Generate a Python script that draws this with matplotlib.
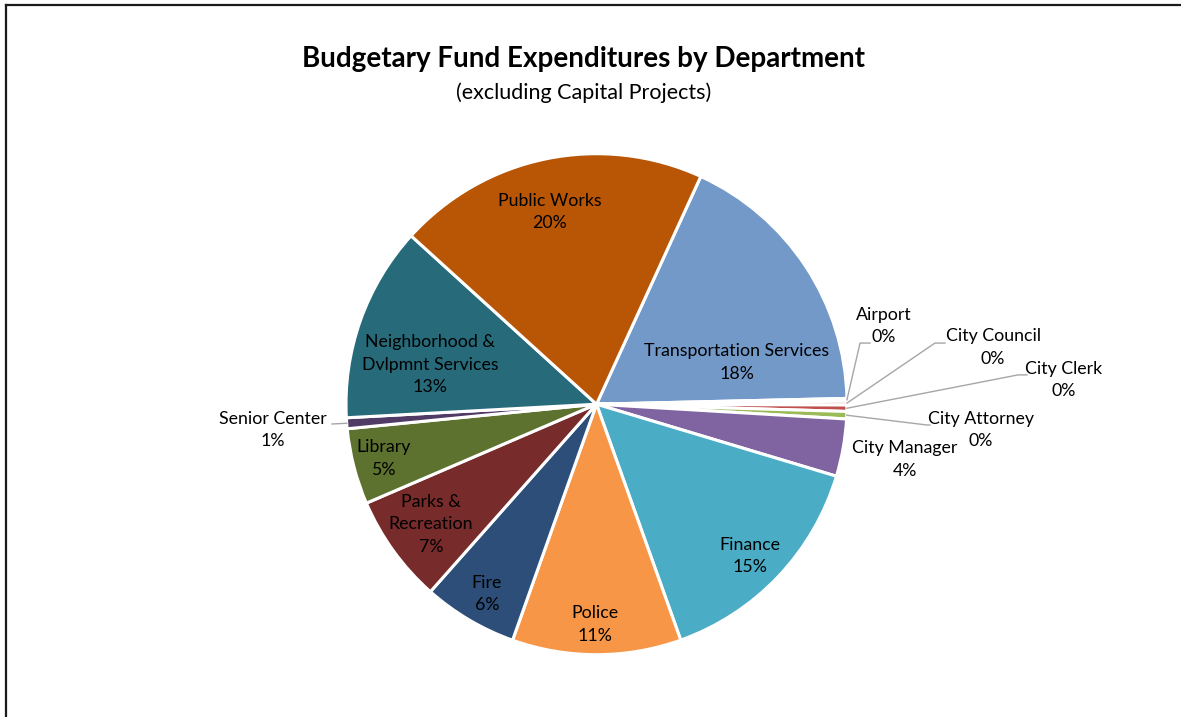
import matplotlib.pyplot as plt
import numpy as np
from matplotlib.lines import Line2D

# department expenditures, % of budgetary fund total (clockwise from Transportation)
departments = [
    "Transportation Services", "Airport", "City Council", "City Clerk",
    "City Attorney", "City Manager", "Finance", "Police", "Fire",
    "Parks &\nRecreation", "Library", "Senior Center",
    "Neighborhood &\nDvlpmnt Services", "Public Works",
]
shares = [17.8, 0.17, 0.25, 0.41, 0.48, 3.7, 14.9, 10.9, 6.1, 7.0, 4.9, 0.7, 12.6, 20.1]
colors = [
    "#7399C9", "#F2DCDB", "#E6B9B8", "#C0504D", "#9BBB59", "#8064A2",
    "#4BACC6", "#F79646", "#2C4E78", "#772B2A", "#5E722F", "#4F3B66",
    "#276B7B", "#B85606",
]

# label placement in pie-radius units; leader = (elbow, end) for outside labels
label_pos = {
    "Transportation Services": (0.560, 0.166),
    "Airport": (1.148, 0.312),
    "City Council": (1.583, 0.226),
    "City Clerk": (1.866, 0.097),
    "City Attorney": (1.535, -0.103),
    "City Manager": (1.231, -0.221),
    "Finance": (0.613, -0.607),
    "Police": (-0.006, -0.880),
    "Fire": (-0.437, -0.758),
    "Parks &\nRecreation": (-0.661, -0.480),
    "Library": (-0.850, -0.217),
    "Senior Center": (-1.291, -0.103),
    "Neighborhood &\nDvlpmnt Services": (-0.665, 0.158),
    "Public Works": (-0.186, 0.767),
}
leaders = {
    "Airport": [(1.052, 0.244), (1.092, 0.244)],
    "City Council": [(1.351, 0.244), (1.391, 0.244)],
    "City Clerk": [(1.683, 0.117), (1.718, 0.117)],
    "City Attorney": [(1.319, -0.083), (1.331, -0.083)],
    "Senior Center": [(-1.056, -0.079), (-1.056, -0.079)],
}

plt.rcParams['font.family'] = ['Lato', 'DejaVu Sans']

W, H = 1181, 717
fig = plt.figure(figsize=(W / 100, H / 100), dpi=100)
cx, cy, r = 596.5, 404.2, 250.5
ax = fig.add_axes([(cx - r) / W, (H - cy - r) / H, 2 * r / W, 2 * r / H])
ax.axis('off')

wedges, _ = ax.pie(shares, colors=colors, startangle=65.4, counterclock=False,
                   radius=1, wedgeprops=dict(edgecolor='white', linewidth=2.2))
ax.set_xlim(-1, 1)
ax.set_ylim(-1, 1)

total = sum(shares)
for w, name, val in zip(wedges, departments, shares):
    pct = f"{round(val / total * 100):.0f}%"
    x, y = label_pos[name]
    ax.text(x, y, f"{name}\n{pct}", ha='center', va='center', fontsize=12.8,
            color='black', linespacing=1.49, clip_on=False)
    if name in leaders:
        mid = np.deg2rad((w.theta1 + w.theta2) / 2)
        pts = [(np.cos(mid), np.sin(mid))] + leaders[name]
        xs, ys = zip(*pts)
        ax.add_line(Line2D(xs, ys, color='#A6A6A6', lw=1.0, clip_on=False))

fig.text(584 / W, 1 - 59 / H, "Budgetary Fund Expenditures by Department",
         ha='center', va='center', fontsize=20, fontweight='bold')
fig.text(584 / W, 1 - 93 / H, "(excluding Capital Projects)",
         ha='center', va='center', fontsize=15.5)

# chart frame
fig.add_artist(Line2D([6 / W, 6 / W], [0, 1 - 5 / H], color='#1a1a1a', lw=1.6,
                      transform=fig.transFigure))
fig.add_artist(Line2D([6 / W, 1], [1 - 5 / H, 1 - 5 / H], color='#1a1a1a', lw=1.6,
                      transform=fig.transFigure))

fig.savefig("out.png", dpi=100, facecolor='white')
